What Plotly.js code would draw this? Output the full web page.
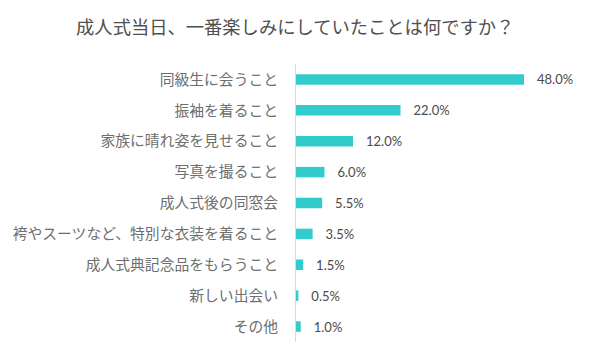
<!DOCTYPE html>
<html>
<head>
<meta charset="utf-8">
<script src="https://cdn.plot.ly/plotly-3.0.1.min.js"></script>
<style>html,body{margin:0;padding:0;background:#fff;}#chart{width:600px;height:360px;}</style>
</head>
<body>
<div id="chart"></div>
<script>
const categories = [
  "同級生に会うこと",
  "振袖を着ること",
  "家族に晴れ姿を見せること",
  "写真を撮ること",
  "成人式後の同窓会",
  "袴やスーツなど、特別な衣装を着ること",
  "成人式典記念品をもらうこと",
  "新しい出会い",
  "その他"
];
const values = [48.0, 22.0, 12.0, 6.0, 5.5, 3.5, 1.5, 0.5, 1.0];
const chartTitle = "成人式当日、一番楽しみにしていたことは何ですか？";

const trace = {
  type: "bar",
  orientation: "h",
  y: categories,
  x: values,
  marker: {color: "#33CCCC"},
  width: 0.34,
  text: values.map(v => "   " + v.toFixed(1) + "%"),
  texttemplate: "%{text}",
  textposition: "outside",
  constraintext: "none",
  cliponaxis: false,
  textfont: {family: "Lato, 'Liberation Sans', sans-serif", size: 13, color: "#4a4a4a"},
  hoverinfo: "none"
};

const layout = {
  width: 600,
  height: 360,
  paper_bgcolor: "#ffffff",
  plot_bgcolor: "#ffffff",
  margin: {l: 296, r: 19, t: 64, b: 18},
  title: {
    text: chartTitle,
    x: 0.492,
    xanchor: "center",
    y: 0.922,
    yanchor: "middle",
    font: {family: "'Noto Sans CJK JP', sans-serif", size: 18.3, color: "#505050"}
  },
  xaxis: {
    range: [0, 60],
    showgrid: false,
    zeroline: false,
    showline: false,
    showticklabels: false,
    ticks: ""
  },
  yaxis: {
    type: "category",
    autorange: "reversed",
    showgrid: false,
    zeroline: false,
    showline: true,
    linecolor: "#d9d9d9",
    linewidth: 1,
    ticks: "",
    ticklabelstandoff: 14,
    tickfont: {family: "'Noto Sans CJK JP', sans-serif", size: 14.8, color: "#6e6e6e"}
  },
  showlegend: false
};

Plotly.newPlot("chart", [trace], layout, {displayModeBar: false, staticPlot: true});
</script>
</body>
</html>
